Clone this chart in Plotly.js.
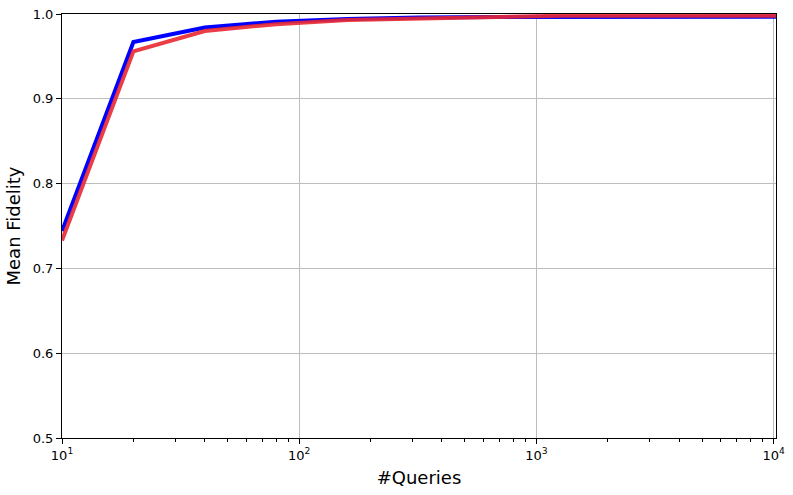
<!DOCTYPE html>
<html>
<head>
<meta charset="utf-8">
<script src="https://cdn.plot.ly/plotly-3.0.1.min.js"></script>
<style>
  body { margin: 0; background: #fff; }
  #graph { width: 793px; height: 495px; }
</style>
</head>
<body>
<div id="graph"></div>
<script>
// DATA
const QUERIES = [10, 20, 40, 80, 160, 320, 640, 1280, 2560, 5120, 10240];
const FIDELITY_BLUE = [0.744, 0.967, 0.984, 0.991, 0.994, 0.996, 0.9965, 0.9967, 0.9967, 0.9967, 0.9967];
const FIDELITY_RED = [0.733, 0.956, 0.980, 0.988, 0.993, 0.995, 0.997, 0.998, 0.998, 0.998, 0.998];
const X_TICKS = [10, 100, 1000, 10000];
const X_TICK_TEXT = ['10<sup>1</sup>', '10<sup>2</sup>', '10<sup>3</sup>', '10<sup>4</sup>'];
const Y_TICKS = [0.5, 0.6, 0.7, 0.8, 0.9, 1.0];

const traceBlue = {
    type: 'scatter', mode: 'lines',
    x: QUERIES, y: FIDELITY_BLUE,
    line: { color: '#0000ff', width: 4 },
    showlegend: false
};
const traceRed = {
    type: 'scatter', mode: 'lines',
    x: QUERIES, y: FIDELITY_RED,
    line: { color: 'rgba(232,40,50,0.9)', width: 4 },
    showlegend: false
};

// LAYOUT
const layout = {
    width: 793, height: 495,
    margin: { t: 14, r: 17, b: 57, l: 62 },
    paper_bgcolor: '#fff', plot_bgcolor: '#fff',
    font: { family: 'DejaVu Sans', size: 12, color: '#000' },
    xaxis: {
        type: 'log',
        range: [1, Math.log10(10240)],
        tickvals: X_TICKS, ticktext: X_TICK_TEXT,
        ticks: 'outside', ticklen: 5, tickcolor: '#000',
        minor: { dtick: 'D1', ticks: 'outside', ticklen: 3, tickcolor: '#000', showgrid: false },
        showgrid: true, gridcolor: '#bdbdbd', gridwidth: 1.2,
        showline: true, linecolor: '#000', linewidth: 1, mirror: true,
        zeroline: false,
        tickfont: { size: 13 },
        title: { text: '#Queries', font: { size: 18 }, standoff: 9 }
    },
    yaxis: {
        range: [0.5, 1.0],
        tickvals: Y_TICKS,
        tickformat: '.1f',
        ticks: 'outside', ticklen: 5, tickcolor: '#000',
        showgrid: true, gridcolor: '#bdbdbd', gridwidth: 1.2,
        showline: true, linecolor: '#000', linewidth: 1, mirror: true,
        zeroline: false,
        tickfont: { size: 13 },
        title: { text: 'Mean Fidelity', font: { size: 18 }, standoff: 7 }
    }
};

const config = { displayModeBar: false, staticPlot: true };

Plotly.newPlot('graph', [traceBlue, traceRed], layout, config);
</script>
</body>
</html>
